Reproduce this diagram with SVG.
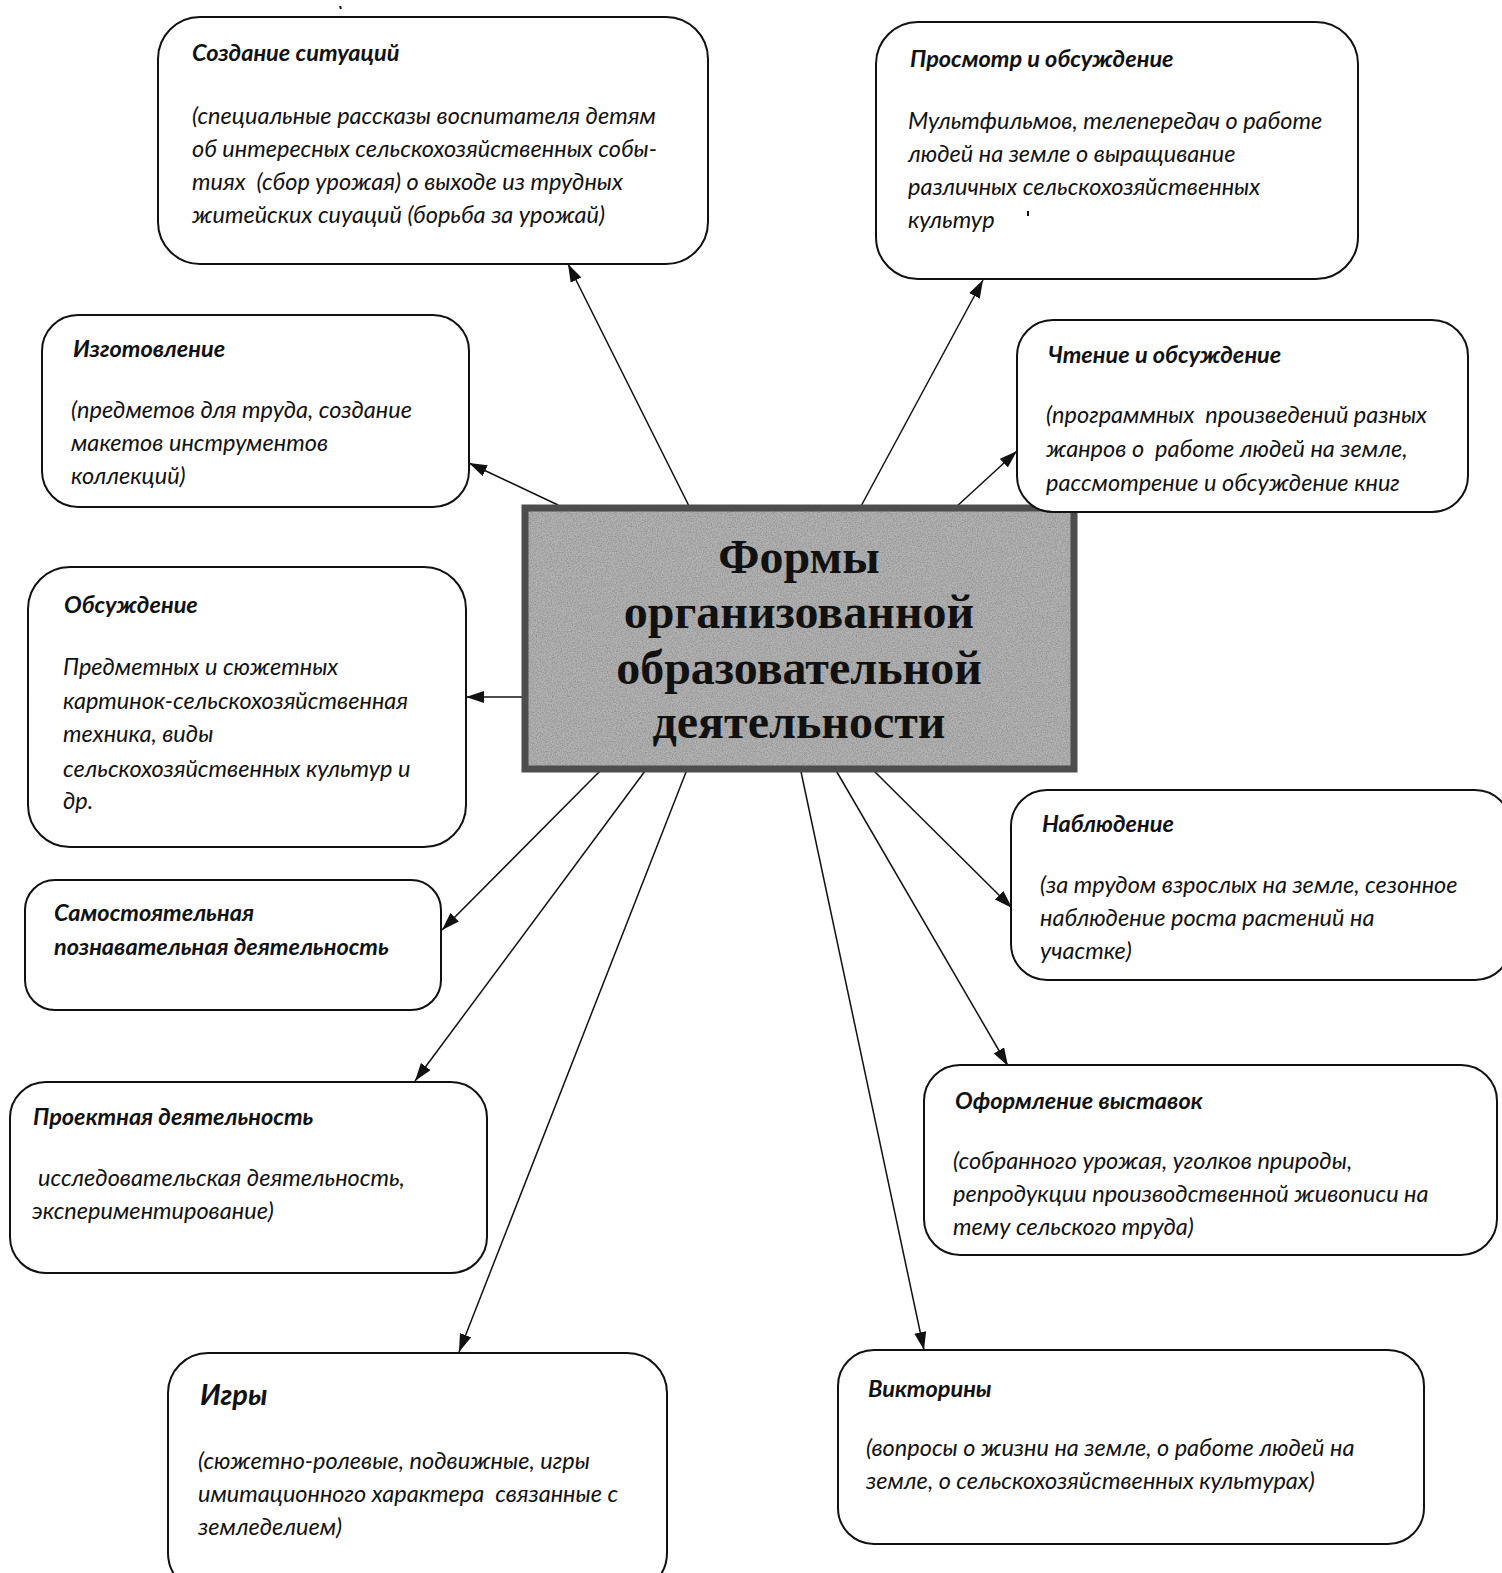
<svg xmlns="http://www.w3.org/2000/svg" width="1502" height="1573" viewBox="0 0 1502 1573">
<style>
.box{fill:#fff;stroke:#111;stroke-width:2}
.t{font-family:Lato,"Open Sans","Liberation Sans",sans-serif;font-style:italic;font-weight:bold;font-size:23.5px;fill:#111;white-space:pre}
.b{font-family:Lato,"Open Sans","Liberation Sans",sans-serif;font-style:italic;font-size:23.5px;fill:#111;white-space:pre}
.c{font-family:"Liberation Serif","Times New Roman",serif;font-weight:bold;font-size:48px;fill:#111;text-anchor:middle}
.ln{stroke:#111;stroke-width:1.5;fill:none;marker-end:url(#ah)}
</style>
<defs>
<marker id="ah" markerUnits="userSpaceOnUse" markerWidth="20" markerHeight="14" refX="18" refY="6" orient="auto">
<path d="M0,0 L18,6 L0,12 Z" fill="#111"/>
</marker>
<filter id="noise" x="0" y="0" width="100%" height="100%">
<feTurbulence type="fractalNoise" baseFrequency="0.8" numOctaves="2" seed="3" result="n"/>
<feColorMatrix type="matrix" in="n" values="0 0 0 0 0  0 0 0 0 0  0 0 0 0 0  0 0 0 -1.6 1.1" result="g"/>
<feComposite in="g" in2="SourceGraphic" operator="in" result="m"/>
<feComponentTransfer in="m" result="m2"><feFuncA type="linear" slope="0.45"/></feComponentTransfer>
<feMerge><feMergeNode in="SourceGraphic"/><feMergeNode in="m2"/></feMerge>
</filter>
</defs>
<rect width="1502" height="1573" fill="#fff"/>

<g id="connectors">
<line class="ln" x1="690" y1="508" x2="568" y2="264"/>
<line class="ln" x1="558" y1="505" x2="469" y2="463"/>
<line class="ln" x1="522" y1="697" x2="466" y2="697"/>
<line class="ln" x1="604" y1="767" x2="442" y2="930"/>
<line class="ln" x1="648" y1="767" x2="415" y2="1081"/>
<line class="ln" x1="688" y1="767" x2="459" y2="1352"/>
<line class="ln" x1="800" y1="767" x2="924" y2="1350"/>
<line class="ln" x1="834" y1="767" x2="1008" y2="1066"/>
<line class="ln" x1="870" y1="767" x2="1012" y2="908"/>
<line class="ln" x1="955" y1="508" x2="1017" y2="451"/>
<line class="ln" x1="860" y1="508" x2="983" y2="280"/>
</g>

<g id="center">
<rect x="525" y="508" width="549" height="261" fill="#b4b4b4" filter="url(#noise)"/>
<rect x="525" y="508" width="549" height="261" fill="none" stroke="#4d4d4d" stroke-width="7"/>
<text class="c" x="799" y="573">Формы</text>
<text class="c" x="799" y="628">организованной</text>
<text class="c" x="799" y="684">образовательной</text>
<text class="c" x="799" y="738">деятельности</text>
</g>

<g id="n-situations">
<rect class="box" x="158" y="17" width="550" height="247" rx="42"/>
<text class="t" x="192" y="61">Создание ситуаций</text>
<text class="b" x="192" y="124">(специальные рассказы воспитателя детям</text>
<text class="b" x="192" y="157">об интересных сельскохозяйственных собы-</text>
<text class="b" x="192" y="190">тиях  (сбор урожая) о выходе из трудных</text>
<text class="b" x="192" y="223">житейских сиуаций (борьба за урожай)</text>
</g>

<g id="n-viewing">
<rect class="box" x="876" y="22" width="482" height="257" rx="42"/>
<text class="t" x="910" y="67">Просмотр и обсуждение</text>
<text class="b" x="908" y="129">Мультфильмов, телепередач о работе</text>
<text class="b" x="908" y="162">людей на земле о выращивание</text>
<text class="b" x="908" y="195">различных сельскохозяйственных</text>
<text class="b" x="908" y="228">культур</text>
<path d="M1028,211 l0,5" stroke="#111" stroke-width="2"/>
</g>

<g id="n-making">
<rect class="box" x="42" y="315" width="427" height="192" rx="36"/>
<text class="t" x="73" y="357">Изготовление</text>
<text class="b" x="71" y="418">(предметов для труда, создание</text>
<text class="b" x="71" y="451">макетов инструментов</text>
<text class="b" x="71" y="484">коллекций)</text>
</g>

<g id="n-reading">
<rect class="box" x="1017" y="320" width="451" height="192" rx="36"/>
<text class="t" x="1048" y="363">Чтение и обсуждение</text>
<text class="b" x="1046" y="423">(программных  произведений разных</text>
<text class="b" x="1046" y="457">жанров о  работе людей на земле,</text>
<text class="b" x="1046" y="491">рассмотрение и обсуждение книг</text>
</g>

<g id="n-discussion">
<rect class="box" x="28" y="567" width="438" height="280" rx="42"/>
<text class="t" x="64" y="613">Обсуждение</text>
<text class="b" x="63" y="675">Предметных и сюжетных</text>
<text class="b" x="63" y="709">картинок-сельскохозяйственная</text>
<text class="b" x="63" y="742">техника, виды</text>
<text class="b" x="63" y="777">сельскохозяйственных культур и</text>
<text class="b" x="63" y="809">др.</text>
</g>

<g id="n-observation">
<rect class="box" x="1011" y="790" width="500" height="190" rx="36"/>
<text class="t" x="1042" y="832">Наблюдение</text>
<text class="b" x="1040" y="893">(за трудом взрослых на земле, сезонное</text>
<text class="b" x="1040" y="926">наблюдение роста растений на</text>
<text class="b" x="1040" y="959">участке)</text>
</g>

<g id="n-independent">
<rect class="box" x="25" y="880" width="416" height="130" rx="30"/>
<text class="t" x="54" y="921">Самостоятельная</text>
<text class="t" x="54" y="955">познавательная деятельность</text>
</g>

<g id="n-exhibitions">
<rect class="box" x="924" y="1065" width="573" height="190" rx="36"/>
<text class="t" x="955" y="1109">Оформление выставок</text>
<text class="b" x="953" y="1169">(собранного урожая, уголков природы,</text>
<text class="b" x="953" y="1202">репродукции производственной живописи на</text>
<text class="b" x="953" y="1235">тему сельского труда)</text>
</g>

<g id="n-project">
<rect class="box" x="10" y="1082" width="477" height="191" rx="36"/>
<text class="t" x="33" y="1125">Проектная деятельность</text>
<text class="b" x="38" y="1186">исследовательская деятельность,</text>
<text class="b" x="32" y="1219">экспериментирование)</text>
</g>

<g id="n-games">
<rect class="box" x="168" y="1353" width="499" height="240" rx="40"/>
<text class="t" x="200" y="1405" style="font-size:29px">Игры</text>
<text class="b" x="198" y="1469">(сюжетно-ролевые, подвижные, игры</text>
<text class="b" x="198" y="1502">имитационного характера  связанные с</text>
<text class="b" x="198" y="1535">земледелием)</text>
</g>

<g id="n-quiz">
<rect class="box" x="838" y="1350" width="586" height="194" rx="36"/>
<text class="t" x="868" y="1397">Викторины</text>
<text class="b" x="866" y="1456">(вопросы о жизни на земле, о работе людей на</text>
<text class="b" x="866" y="1489">земле, о сельскохозяйственных культурах)</text>
</g>

<path d="M340,6 l1,3" stroke="#111" stroke-width="2"/>
</svg>
